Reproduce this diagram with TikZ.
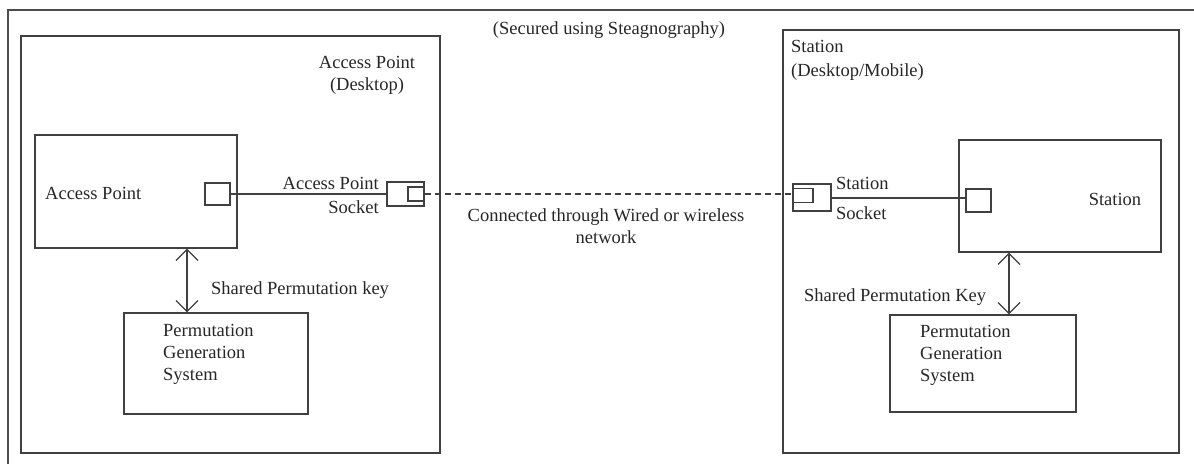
\documentclass[tikz,border=0pt]{standalone}
\usepackage{fontspec}
\setmainfont{Liberation Serif}
\usetikzlibrary{arrows.meta}
\begin{document}
\begin{tikzpicture}[x=1pt,y=-1pt, line join=miter,
	font=\fontsize{18.5}{22}\selectfont,
	box/.style={draw=black!75, line width=1.3pt, inner sep=0pt},
	txt/.style={inner sep=0pt, text=black!85},
	link/.style={line width=1.3pt, black!75},
	dbl/.style={{Straight Barb[length=11pt,width=22pt]}-{Straight Barb[length=11pt,width=22pt]}, line width=1.2pt, black!75}]
	\useasboundingbox (0,0) rectangle (1194,464);
	% outer frame (cut off on the right and below)
	\draw[black!70, line width=1.3pt] (1194,10) -- (8,10) -- (8,464);
	\node[txt] (title) at (609,30) {(Secured using Steagnography)};
	% access point side
	\node[box, minimum width=419pt, minimum height=417pt] (apdesk) at (230.5,244.5) {};
	\node[txt, align=center] (apdesklbl) at (367,75) {Access Point\\(Desktop)};
	\node[box, minimum width=202pt, minimum height=113pt] (apbox) at (136,191.5) {};
	\node[txt, anchor=west] (aptxt) at (45,193) {Access Point};
	\node[box, minimum width=25pt, minimum height=22pt] (apsq) at (217.5,194) {};
	\node[box, minimum width=37pt, minimum height=24pt] (apsock) at (405.5,194) {};
	\node[box, minimum width=16pt, minimum height=14pt, anchor=east] (apsockin) at (apsock.east) {};
	\node[txt, align=right, anchor=east] (apsocklbl) at (379,195) {Access Point\\[2pt]Socket};
	\node[box, minimum width=184pt, minimum height=101pt] (apperm) at (216,363.5) {};
	\node[txt, align=left, anchor=north west] (appermtxt) at (163,324) {Permutation\\Generation\\System};
	\node[txt, anchor=west] (apkey) at (211,290) {Shared Permutation key};
	% station side
	\node[box, minimum width=396pt, minimum height=423pt] (stdesk) at (981,241.5) {};
	\node[txt, align=left, anchor=north west] (stdesklbl) at (791,40) {Station\\[2pt](Desktop/Mobile)};
	\node[box, minimum width=202pt, minimum height=112pt] (stbox) at (1060,196) {};
	\node[txt] (sttxt) at (1115,199) {Station};
	\node[box, minimum width=25pt, minimum height=23pt] (stsq) at (978.5,200.5) {};
	\node[box, minimum width=38pt, minimum height=27pt] (stsock) at (812,197.5) {};
	\node[box, minimum width=20pt, minimum height=14pt, anchor=west] (stsockin) at ([yshift=2pt]stsock.west) {};
	\node[txt, align=left, anchor=west] (stsocklbl) at (836,198) {Station\\[8pt]Socket};
	\node[box, minimum width=186pt, minimum height=97pt] (stperm) at (983,363.5) {};
	\node[txt, align=left, anchor=north west] (stpermtxt) at (920,325) {Permutation\\Generation\\System};
	\node[txt, anchor=west] (stkey) at (804,297) {Shared Permutation Key};
	% network link
	\node[txt, align=center] (netlbl) at (606,226) {Connected through Wired or wireless\\network};
	% connectors
	\draw[link] (apsq.east) -- (apsock.west);
	\draw[link, dash pattern=on 6pt off 4pt] (apsock.east) -- (apsock.east -| stsock.west);
	\draw[link] ([yshift=-0.5pt]stsock.east) -- ([yshift=-0.5pt]stsock.east -| stsq.west);
	\draw[dbl] (apbox.south -| 187,0) -- (apperm.north -| 187,0);
	\draw[dbl] (stbox.south -| 1009,0) -- (stperm.north -| 1009,0);
\end{tikzpicture}
\end{document}
